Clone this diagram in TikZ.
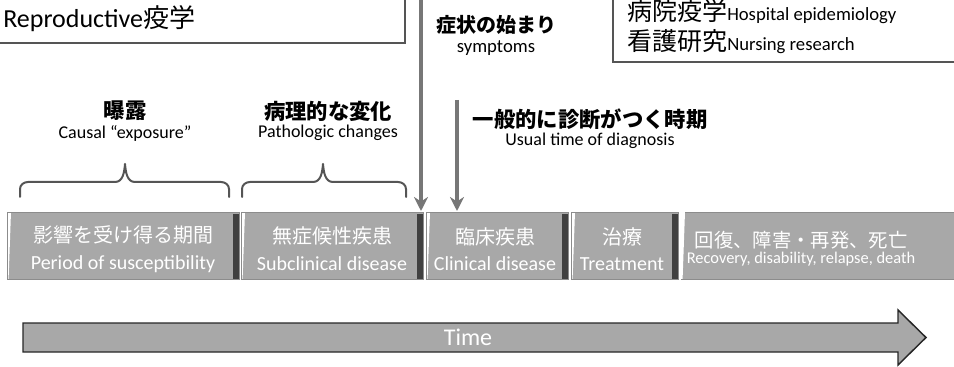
\documentclass[tikz,border=0pt]{standalone}
\usepackage{fontspec}
\setmainfont{Carlito}
\newfontfamily\cjk{Noto Sans CJK JP}
\usetikzlibrary{arrows.meta}
\newcommand\jpx[1]{{\cjk #1}}
\definecolor{boxgray}{HTML}{A8A8A8}
\definecolor{edgedark}{HTML}{404040}
\definecolor{arrowgray}{HTML}{777777}
\definecolor{framegray}{HTML}{555555}
\begin{document}
\begin{tikzpicture}[x=0.75pt,y=-0.75pt,
  topbox/.style={draw=framegray,line width=1.1pt},
  lbl/.style={inner sep=0pt},
  jlbl/.style={inner sep=0pt,font=\cjk\bfseries\fontsize{16}{18}\selectfont},
  elbl/.style={inner sep=0pt,font=\fontsize{13.5}{16}\selectfont},
  stagebox/.style={fill=boxgray,draw=black!45,line width=0.5pt,inner sep=0pt,
    minimum height=50.25pt,text=white,align=center,font=\fontsize{15}{20}\selectfont,
    path picture={
      \fill[edgedark] ([xshift=-4.5pt,yshift=-1.5pt]path picture bounding box.north east)
        rectangle (path picture bounding box.south east);
      \fill[white] (path picture bounding box.north west) -- ([xshift=3pt]path picture bounding box.north west)
        -- ([xshift=1.2pt]path picture bounding box.south west) -- (path picture bounding box.south west) -- cycle;}},
  stagetext/.style={inner sep=0pt,text=white,align=center,font=\fontsize{15}{20}\selectfont},
  varrow/.style={draw=arrowgray,line width=3pt,-{Stealth[length=10.5pt,width=10.5pt]}},
  bracestyle/.style={draw=framegray,line width=1.5pt,line cap=round,line join=round}]
\useasboundingbox (0,0) rectangle (954,367);

% top boxes
\draw[topbox] (-10,-10) rectangle (405,43);
\node[lbl,anchor=base west] (repro) at (3,28) {\fontsize{19.5}{22}\selectfont Reproductive\jpx{疫学}};
\draw[topbox] (613,-10) rectangle (970,62);
\node[lbl,anchor=base west] (hosp) at (627,21) {\fontsize{18.75}{22}\selectfont\jpx{病院疫学}\fontsize{14}{16}\selectfont Hospital epidemiology};
\node[lbl,anchor=base west] (nurs) at (627,51) {\fontsize{18.75}{22}\selectfont\jpx{看護研究}\fontsize{14}{16}\selectfont Nursing research};

% labels
\node[jlbl,font=\cjk\bfseries\fontsize{15}{18}\selectfont] (symj) at (496,25) {症状の始まり};
\node[elbl,font=\fontsize{14}{16}\selectfont] (syme) at (496,48) {symptoms};
\node[jlbl] (expj) at (125,111) {曝露};
\node[elbl] (expe) at (125,133) {Causal “exposure”};
\node[jlbl] (patj) at (328,111) {病理的な変化};
\node[elbl] (pate) at (328,133) {Pathologic changes};
\node[jlbl] (diagj) at (590,119) {一般的に診断がつく時期};
\node[elbl] (diage) at (590,141) {Usual time of diagnosis};

% braces
\coordinate (b1l) at (20,197);
\coordinate (b2l) at (242,197);
\draw[bracestyle] (b1l) -- ++(0,-8) to[out=90,in=180] ++(8,-7) -- (115,182)
  to[out=0,in=-95] (125,164) to[out=-85,in=180] (135,182) -- (221,182)
  to[out=0,in=90] (229,189) -- (229,197);
\draw[bracestyle] (b2l) -- ++(0,-8) to[out=90,in=180] ++(8,-7) -- (313,182)
  to[out=0,in=-95] (323,164) to[out=-85,in=180] (333,182) -- (398,182)
  to[out=0,in=90] (406,189) -- (406,197);

% stage boxes
\node[stagebox,minimum width=174pt] (s1) at (123,245.5) {};
\node[stagebox,minimum width=136.5pt] (s2) at (332,245.5) {};
\node[stagebox,minimum width=106.5pt] (s3) at (497,245.5) {};
\node[stagebox,minimum width=80.25pt] (s4) at (624.5,245.5) {};
\node[stagetext] (t1) at (123,249) {\jpx{影響を受け得る期間}\\Period of susceptibility};
\node[stagetext] (t2) at (332,249) {\jpx{無症候性疾患}\\Subclinical disease};
\node[stagetext] (t3) at (495,249) {\jpx{臨床疾患}\\Clinical disease};
\node[stagetext] (t4) at (622,249) {\jpx{治療}\\Treatment};
\fill[boxgray] (681,212) rectangle (960,279);
\draw[black!45,line width=0.5pt] (960,212) -- (681,212) -- (681,279) -- (960,279);
\fill[white] (681,212) -- (685,212) -- (682.6,279) -- (681,279) -- cycle;
\node[inner sep=0pt,text=white,align=center] (s5) at (801,249)
  {{\cjk\fontsize{14.5}{20}\selectfont 回復、障害・再発、死亡}\\{\fontsize{12.3}{14}\selectfont Recovery, disability, relapse, death}};

% vertical arrows
\coordinate (a1top) at (421,-4);
\coordinate (a1tip) at (421,211);
\coordinate (a2top) at (457,100);
\coordinate (a2tip) at (457,211);
\draw[varrow] (a1top) -- (a1tip);
\draw[varrow] (a2top) -- (a2tip);

% time arrow
\draw[fill=boxgray,draw=black!85,line width=1.1pt,line join=miter]
  (23,323) -- (898,323) -- (898,310) -- (926,337.5) -- (898,365) -- (898,352) -- (23,352) -- cycle;
\node[inner sep=0pt,text=white,font=\fontsize{18}{20}\selectfont] (time) at (468,337.5) {Time};
\end{tikzpicture}
\end{document}
